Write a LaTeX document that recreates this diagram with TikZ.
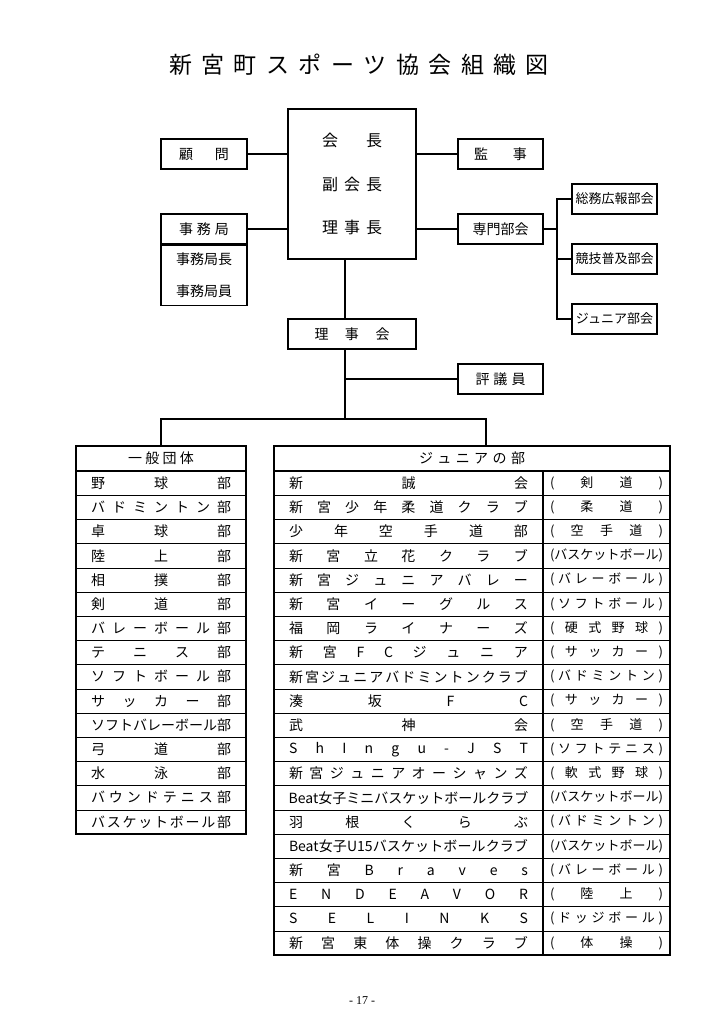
\documentclass[tikz,border=0pt]{standalone}
\usepackage{fontspec}
\setmainfont{Noto Sans CJK JP}
\newfontfamily\pagefont{Liberation Serif}
\usetikzlibrary{positioning}
\tikzset{
  box/.style={draw, line width=1.3pt, fill=white, minimum width=85pt, minimum height=30pt,
    inner sep=0pt, font=\fontsize{14}{16}\selectfont},
  subbox/.style={box, font=\fontsize{13}{15}\selectfont},
  link/.style={line width=1.3pt},
  % 表
  cell/.style={draw, line width=0.6pt, minimum height=24.2pt, inner sep=0pt,
    font=\fontsize{14}{16}\selectfont},
  sportcell/.style={cell, font=\fontsize{13}{15}\selectfont},
  head/.style={cell, minimum height=25pt},
  frame/.style={line width=1.7pt}
}
% 均等割付
\let\spreadstop\relax
\def\spreadmark{\spreadstop}
\def\spreadfirst#1{#1\spreadnext}
\def\spreadnext#1{\def\spreadarg{#1}\ifx\spreadarg\spreadmark\else\hfill#1\expandafter\spreadnext\fi}
\newcommand\spreadtext[2]{\makebox[#1]{\expandafter\spreadfirst#2\spreadstop}}

\begin{document}
\begin{tikzpicture}[x=1pt, y=-1pt]
  \useasboundingbox (0,0) rectangle (724,1024);
  \node[font=\fontsize{23}{25}\selectfont] (title) at (359,65) {\spreadtext{380pt}{新宮町スポーツ協会組織図}};

  \node[box, minimum width=128pt, minimum height=150pt, align=center,
    font=\fontsize{16}{43.5}\selectfont] (main) at (352,184)
    {\spreadtext{60pt}{会長}\\\spreadtext{60pt}{副会長}\\\spreadtext{60pt}{理事長}};
  \node[box, minimum width=86pt] (komon) at (204,154) {\spreadtext{50pt}{顧問}};
  \node[box, minimum width=86pt] (jimu) at (204,229) {\spreadtext{50pt}{事務局}};
  \node[box, minimum width=86pt, minimum height=60pt, align=center,
    font=\fontsize{14}{32}\selectfont, below=0pt of jimu.south] (jimustaff) {事務局長\\事務局員};
  \node[box] (kanji) at (500.5,154) {\spreadtext{53pt}{監事}};
  \node[box] (senmon) at (500.5,229) {専門部会};
  \node[subbox] (soumu) at (614.5,199) {総務広報部会};
  \node[subbox] (kyougi) at (614.5,259) {競技普及部会};
  \node[subbox] (junbu) at (614.5,319) {ジュニア部会};
  \node[box, minimum width=128pt] (rijikai) at (352,334) {\spreadtext{75pt}{理事会}};
  \node[box] (hyogi) at (500.5,379) {\spreadtext{50pt}{評議員}};

  \coordinate (branch) at (557,229);
  \coordinate (hub) at (345,419);
  \draw[link] (komon.east) -- (komon.east -| main.west);
  \draw[link] (jimu.east) -- (jimu.east -| main.west);
  \draw[link] (kanji.west -| main.east) -- (kanji.west);
  \draw[link] (senmon.west -| main.east) -- (senmon.west);
  \draw[link] (senmon.east) -- (branch);
  \draw[link] (soumu.west) -| (branch) |- (junbu.west);
  \draw[link] (kyougi.west -| branch) -- (kyougi.west);
  \draw[link] (hub |- main.south) -- (hub |- rijikai.north);
  \draw[link] (hub |- rijikai.south) -- (hub);
  \draw[link] (hub |- hyogi.west) -- (hyogi.west);

  % 一般団体
  \node[head, minimum width=170pt] (ghead) at (161,458.5) {\spreadtext{66pt}{一般団体}};
  \foreach \club [count=\i] in {野球部, バドミントン部, 卓球部, 陸上部, 相撲部, 剣道部,
      バレーボール部, テニス部, ソフトボール部, サッカー部, ソフトバレーボール部,
      弓道部, 水泳部, バウンドテニス部, バスケットボール部}{
    \node[cell, minimum width=170pt] (g\i) at (161,{471+(\i-0.5)*24.2}) {\spreadtext{140pt}{\club}};
  }
  \draw[frame] (ghead.north west) rectangle (g15.south east);
  \draw[frame] (ghead.south west) -- (ghead.south east);

  % ジュニアの部
  \node[head, minimum width=396pt] (jhead) at (472,458.5) {\spreadtext{106pt}{ジュニアの部}};
  \foreach \club/\sport [count=\i] in {新誠会/(剣道), 新宮少年柔道クラブ/(柔道),
      少年空手道部/(空手道), 新宮立花クラブ/(バスケットボール), 新宮ジュニアバレー/(バレーボール),
      新宮イーグルス/(ソフトボール), 福岡ライナーズ/(硬式野球), 新宮FCジュニア/(サッカー),
      新宮ジュニアバドミントンクラブ/(バドミントン), 湊坂FC/(サッカー), 武神会/(空手道),
      ShIngu-JST/(ソフトテニス), 新宮ジュニアオーシャンズ/(軟式野球),
      {Beat}女子ミニバスケットボールクラブ/(バスケットボール), 羽根くらぶ/(バドミントン),
      {Beat}女子{U15}バスケットボールクラブ/(バスケットボール), 新宮Braves/(バレーボール),
      ENDEAVOR/(陸上), SELINKS/(ドッジボール), 新宮東体操クラブ/(体操)}{
    \node[cell, minimum width=269pt] (j\i) at (408.5,{471+(\i-0.5)*24.2}) {\spreadtext{239pt}{\club}};
    \node[sportcell, minimum width=127pt] (s\i) at (606.5,{471+(\i-0.5)*24.2}) {\spreadtext{113pt}{\sport}};
  }
  \draw[frame] (jhead.north west) rectangle (s20.south east);
  \draw[frame] (jhead.south west) -- (jhead.south east);
  \draw[frame] (j1.north east) -- (j20.south east);

  \coordinate (jtop) at ([xshift=14pt]jhead.north);
  \draw[link] (ghead.north) |- (hub) -| (jtop);

  \node[font=\pagefont\fontsize{12}{14}\selectfont] (page) at (362,1001) {- 17 -};
\end{tikzpicture}
\end{document}
